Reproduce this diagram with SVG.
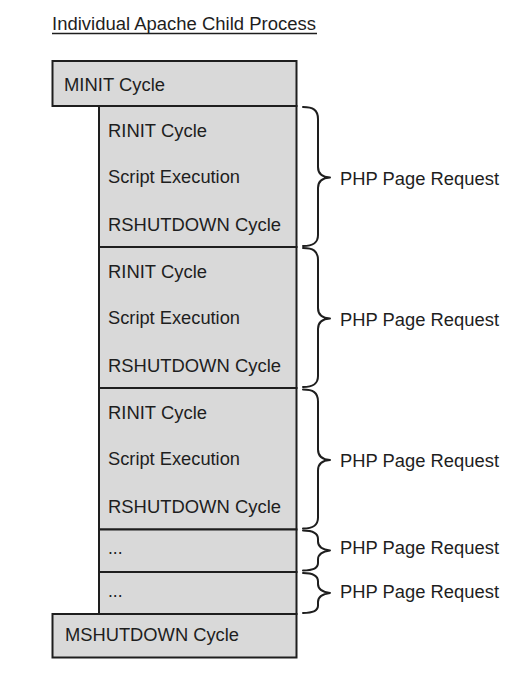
<svg xmlns="http://www.w3.org/2000/svg" width="513" height="679" viewBox="0 0 513 679">
<style>
.box{fill:#d9d9d9;stroke:#1e1e1e;stroke-width:2}
.t{font-family:"Liberation Sans",Arial,sans-serif;font-size:17.5px;fill:#1e1e1e}
.brace{fill:none;stroke:#1e1e1e;stroke-width:2;stroke-linecap:round;stroke-linejoin:round}
</style>
<rect width="513" height="679" fill="#ffffff"/>
<g id="title">
<text class="t" x="52" y="30" textLength="264" lengthAdjust="spacingAndGlyphs">Individual Apache Child Process</text>
<line x1="52" y1="33.5" x2="317" y2="33.5" stroke="#1e1e1e" stroke-width="1.3"/>
</g>
<g id="minit">
<rect class="box" x="52.5" y="61" width="244" height="45"/>
<text class="t" x="64" y="90.7" textLength="101" lengthAdjust="spacingAndGlyphs">MINIT Cycle</text>
</g>
<g id="request1">
<rect class="box" x="99" y="106" width="197.5" height="141"/>
<text class="t" x="108" y="136.7" textLength="99" lengthAdjust="spacingAndGlyphs">RINIT Cycle</text>
<text class="t" x="108" y="182.7" textLength="132" lengthAdjust="spacingAndGlyphs">Script Execution</text>
<text class="t" x="108" y="231" textLength="173" lengthAdjust="spacingAndGlyphs">RSHUTDOWN Cycle</text>
</g>
<g id="request2">
<rect class="box" x="99" y="247" width="197.5" height="141"/>
<text class="t" x="108" y="277.7" textLength="99" lengthAdjust="spacingAndGlyphs">RINIT Cycle</text>
<text class="t" x="108" y="323.7" textLength="132" lengthAdjust="spacingAndGlyphs">Script Execution</text>
<text class="t" x="108" y="372" textLength="173" lengthAdjust="spacingAndGlyphs">RSHUTDOWN Cycle</text>
</g>
<g id="request3">
<rect class="box" x="99" y="388" width="197.5" height="141.5"/>
<text class="t" x="108" y="418.7" textLength="99" lengthAdjust="spacingAndGlyphs">RINIT Cycle</text>
<text class="t" x="108" y="464.7" textLength="132" lengthAdjust="spacingAndGlyphs">Script Execution</text>
<text class="t" x="108" y="513" textLength="173" lengthAdjust="spacingAndGlyphs">RSHUTDOWN Cycle</text>
</g>
<g id="request4">
<rect class="box" x="99" y="529.5" width="197.5" height="42.5"/>
<text class="t" x="108" y="554">...</text>
</g>
<g id="request5">
<rect class="box" x="99" y="572" width="197.5" height="42"/>
<text class="t" x="108" y="597">...</text>
</g>
<g id="mshutdown">
<rect class="box" x="52.5" y="614" width="244" height="43.5"/>
<text class="t" x="65" y="640.7" textLength="174" lengthAdjust="spacingAndGlyphs">MSHUTDOWN Cycle</text>
</g>
<g id="connectors">
<path class="brace" d="M303,107 C313,107 318,110 318,119 L318,167 C318,174 322,177 330,177.5 C322,178 318,181 318,188 L318,235 C318,243 313,246 303,246"/>
<path class="brace" d="M303,248 C313,248 318,251 318,260 L318,308 C318,315 322,318 330,318.5 C322,319 318,322 318,329 L318,376 C318,384 313,387 303,387"/>
<path class="brace" d="M303,389.5 C313,389.5 318,392.5 318,401.5 L318,449.5 C318,456.5 322,459.5 330,460 C322,460.5 318,463.5 318,470.5 L318,517.5 C318,525.5 313,528.5 303,528.5"/>
<path class="brace" d="M303,530.5 C312,530.5 318,533 318,539 L318,541.5 C318,546.5 322,549.5 330,550.5 C322,551.5 318,554.5 318,559.5 L318,563 C318,568 312,570.5 303,570.5"/>
<path class="brace" d="M303,573 C312,573 318,575.5 318,581.5 L318,584 C318,589 322,592 330,593 C322,594 318,597 318,602 L318,605.5 C318,610.5 312,613 303,613"/>
</g>
<g id="labels">
<text class="t" x="340" y="185" textLength="159" lengthAdjust="spacingAndGlyphs">PHP Page Request</text>
<text class="t" x="340" y="326" textLength="159" lengthAdjust="spacingAndGlyphs">PHP Page Request</text>
<text class="t" x="340" y="467" textLength="159" lengthAdjust="spacingAndGlyphs">PHP Page Request</text>
<text class="t" x="340" y="554" textLength="159" lengthAdjust="spacingAndGlyphs">PHP Page Request</text>
<text class="t" x="340" y="598" textLength="159" lengthAdjust="spacingAndGlyphs">PHP Page Request</text>
</g>
</svg>
